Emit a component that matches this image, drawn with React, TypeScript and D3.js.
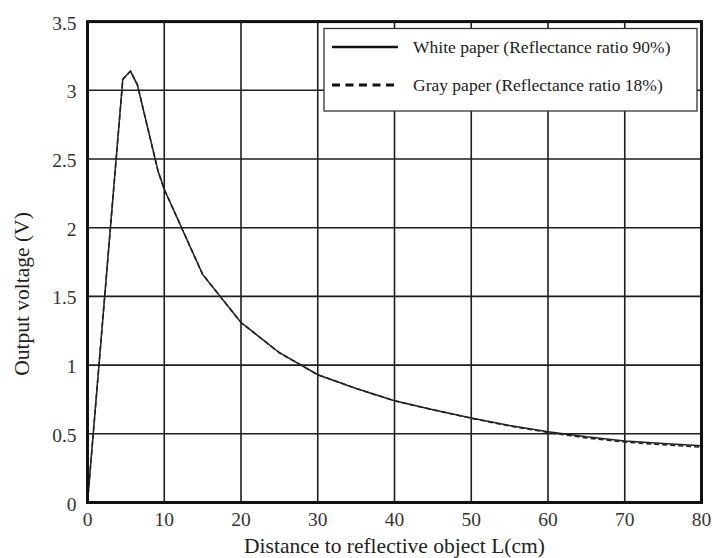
import React from "react";
import * as d3 from "d3";

const distance: number[] = [0, 4.6, 5.6, 6.5, 9.2, 10, 15, 20, 25, 30, 35, 40, 45, 50, 55, 60, 65, 70, 75, 80];
const whitePaper: number[] = [0, 3.08, 3.14, 3.04, 2.41, 2.28, 1.66, 1.31, 1.09, 0.93, 0.83, 0.74, 0.675, 0.615, 0.56, 0.515, 0.478, 0.448, 0.43, 0.413];
const grayPaper: number[] = [0, 3.08, 3.14, 3.04, 2.41, 2.28, 1.66, 1.31, 1.09, 0.93, 0.83, 0.74, 0.675, 0.613, 0.557, 0.51, 0.47, 0.44, 0.42, 0.403];
const xTicks: number[] = [0, 10, 20, 30, 40, 50, 60, 70, 80];
const yTicks: number[] = [0, 0.5, 1, 1.5, 2, 2.5, 3, 3.5];
const yTickLabels: string[] = ["0", "0.5", "1", "1.5", "2", "2.5", "3", "3.5"];
const legendLabels: string[] = ["White paper (Reflectance ratio 90%)", "Gray paper (Reflectance ratio 18%)"];
const xTitle = "Distance to reflective object L(cm)";
const yTitle = "Output voltage (V)";

export default function App() {
  const W = 712, H = 558;
  const x = d3.scaleLinear().domain([0, 80]).range([87.5, 701.5]);
  const y = d3.scaleLinear().domain([0, 3.5]).range([502.5, 21.6]);
  const font = "'Liberation Serif', 'Times New Roman', serif";
  const line = d3.line<[number, number]>().x(d => x(d[0])).y(d => y(d[1]));
  const whitePts = distance.map((d, i) => [d, whitePaper[i]] as [number, number]);
  const grayPts = distance.map((d, i) => [d, grayPaper[i]] as [number, number]);
  const lg = { x0: 324, y0: 28.5, x1: 697, y1: 111 };
  const rows = [47, 85];
  return (
    <svg width={W} height={H} style={{ position: "absolute", left: 0, top: 0, background: "#fff" }}>
      <rect x={0} y={0} width={W} height={H} fill="#fff" />
      {xTicks.map(t => (
        <line key={"gx" + t} x1={x(t)} x2={x(t)} y1={y(0)} y2={y(3.5)} stroke="#1e1e1e" strokeWidth={1.6} />
      ))}
      {yTicks.map(t => (
        <line key={"gy" + t} x1={x(0)} x2={x(80)} y1={y(t)} y2={y(t)} stroke="#1e1e1e" strokeWidth={1.6} />
      ))}
      <path d={line(grayPts) || ""} fill="none" stroke="#222" strokeWidth={1.6} strokeDasharray="5,3" />
      <path d={line(whitePts) || ""} fill="none" stroke="#222" strokeWidth={1.5} />
      <rect x={x(0)} y={y(3.5)} width={x(80) - x(0)} height={y(0) - y(3.5)} fill="none" stroke="#111" strokeWidth={3} />
      <rect x={lg.x0} y={lg.y0} width={lg.x1 - lg.x0} height={lg.y1 - lg.y0} fill="#fff" stroke="#333" strokeWidth={1.3} />
      <line x1={332} x2={398} y1={rows[0]} y2={rows[0]} stroke="#111" strokeWidth={2.4} />
      <line x1={332} x2={398} y1={rows[1]} y2={rows[1]} stroke="#111" strokeWidth={2.8} strokeDasharray="8,5.5" />
      {legendLabels.map((l, i) => (
        <text key={l} x={413} y={rows[i] + 5.5} fontFamily={font} fontSize={17.5} fill="#222">{l}</text>
      ))}
      {xTicks.map(t => (
        <text key={"tx" + t} x={x(t)} y={526} textAnchor="middle" fontFamily={font} fontSize={19.5} fill="#333">{t}</text>
      ))}
      {yTicks.map((t, i) => (
        <text key={"ty" + t} x={76.5} y={y(t) + 8} textAnchor="end" fontFamily={font} fontSize={19.5} fill="#333">{yTickLabels[i]}</text>
      ))}
      <text x={394.5} y={553} textAnchor="middle" fontFamily={font} fontSize={21.5} fill="#222">{xTitle}</text>
      <text transform="translate(29,294) rotate(-90)" textAnchor="middle" fontFamily={font} fontSize={21.5} fill="#222">{yTitle}</text>
    </svg>
  );
}
